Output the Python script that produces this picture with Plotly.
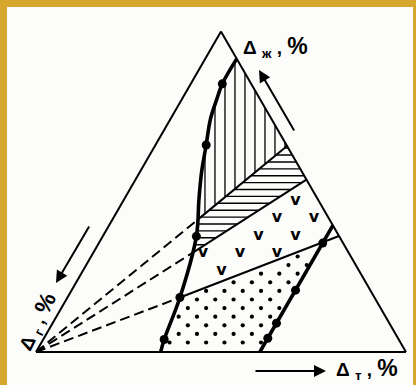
import numpy as np
import plotly.graph_objects as go

# ternary values in %:  a = Δж (top), b = Δг (bottom-left), c = Δт (bottom-right)
curve1_a = [91.5, 83.7, 79.0, 72.7, 64.6, 56.1, 47.7, 36.1, 17.0, 3.9, 0.0]
curve1_b = [0.0, 7.8, 11.6, 16.5, 21.7, 27.2, 32.1, 38.6, 52.6, 63.4, 66.3]
curve1_c = [8.5, 8.5, 9.4, 10.8, 13.7, 16.7, 20.2, 25.3, 30.4, 32.7, 33.7]
dots1_idx = [1, 4, 7, 8, 9]

curve2_a = [0.0, 39.5]
curve2_b = [39.5, 0.0]
curve2_c = [60.5, 60.5]
dots2_a = [4.3, 9.0, 19.3, 34.0]
dots2_b = [35.2, 30.5, 20.2, 5.5]
dots2_c = [60.5, 60.5, 60.5, 60.5]

# three rays out of the Δг corner: where they cross curve 1 and where they hit the right side
ray_join_a = [41.4, 30.8, 17.0]
ray_join_b = [35.5, 42.5, 52.6]
ray_join_c = [23.1, 26.7, 30.4]
ray_edge_a = [64.3, 53.8, 36.2]
ray_edge_c = [35.7, 46.2, 63.8]

H = np.sqrt(3) / 2
SIDE = 370.0  # triangle side on screen, px (only used for texture spacing)


def to_xy(pts):
    p = np.array(pts, float)
    return (p[:, 2] + p[:, 0] / 2) / 100, p[:, 0] / 100 * H


def to_abc(x, y):
    x = np.asarray(x, float)
    y = np.asarray(y, float)
    a = y / H * 100
    c = x * 100 - a / 2
    b = 100 - a - c
    fix = lambda v: [None if np.isnan(q) else float(q) for q in v]
    return fix(a), fix(b), fix(c)


def inside(px, py, poly):
    vx, vy = to_xy(poly)
    px = np.asarray(px, float)
    py = np.asarray(py, float)
    res = np.zeros(px.shape, bool)
    j = len(vx) - 1
    for i in range(len(vx)):
        if vy[i] != vy[j]:
            hit = ((vy[i] > py) != (vy[j] > py)) & \
                  (px < (vx[j] - vx[i]) * (py - vy[i]) / (vy[j] - vy[i]) + vx[i])
            res ^= hit
        j = i
    return res


def inside_margin(px, py, poly, m):
    ok = inside(px, py, poly)
    for dx, dy in [(m, 0), (-m, 0), (0, m), (0, -m)]:
        ok &= inside(px + dx, py + dy, poly)
    return ok


def hatch(poly, vertical, step_px, first_px):
    t = np.linspace(0, 1, 900)
    step = step_px / SIDE
    xs, ys = [], []
    for lv in np.arange((first_px / SIDE) % step, 1, step):
        if vertical:
            px, py = np.full_like(t, lv), t * H
        else:
            px, py = t, np.full_like(t, lv)
        m = inside(px, py, poly)
        if m.any():
            if vertical:
                xs += [lv, lv, np.nan]
                ys += [py[m].min(), py[m].max(), np.nan]
            else:
                xs += [px[m].min(), px[m].max(), np.nan]
                ys += [lv, lv, np.nan]
    return to_abc(xs, ys)


def lattice(poly, dx_px, dy_px, x0_px, y0_px, margin_px):
    xs, ys = [], []
    for k in range(-40, 40):
        y = (y0_px + k * dy_px) / SIDE
        if y < 0 or y > H:
            continue
        shift = dx_px / 2 if k % 2 else 0
        x = (x0_px + shift + np.arange(-30, 30) * dx_px) / SIDE
        ok = inside_margin(x, np.full_like(x, y), poly, margin_px / SIDE)
        xs += list(x[ok])
        ys += [y] * int(ok.sum())
    return to_abc(xs, ys)


pts1 = list(zip(curve1_a, curve1_b, curve1_c))
joins = list(zip(ray_join_a, ray_join_b, ray_join_c))
edges = [(a, 0.0, c) for a, c in zip(ray_edge_a, ray_edge_c)]
A_j, B_j, C_j = joins
A_e, B_e, C_e = edges
C2 = (dots2_a[-1], dots2_b[-1], dots2_c[-1])
top2 = (curve2_a[-1], curve2_b[-1], curve2_c[-1])
bot2 = (curve2_a[0], curve2_b[0], curve2_c[0])

reg_vert = [p for p in pts1 if p[0] > A_j[0]] + [A_j, A_e]
reg_horiz = [A_j, A_e, B_e, B_j] + [p for p in pts1 if B_j[0] < p[0] < A_j[0]][::-1]
reg_v = [B_j, B_e, top2, C2, C_j] + [p for p in pts1 if C_j[0] < p[0] < B_j[0]][::-1]
reg_dots = [C_j, C2, bot2] + [p for p in pts1 if p[0] < C_j[0]][::-1]

fig = go.Figure()


def tern(abc, **kw):
    a, b, c = abc
    fig.add_trace(go.Scatterternary(a=a, b=b, c=c, hoverinfo='skip',
                                    showlegend=False, **kw))


# textures
tern(hatch(reg_vert, True, 10.0, 169.0), mode='lines', line=dict(color='black', width=1.3))
tern(hatch(reg_horiz, False, 6.9, 197.0), mode='lines', line=dict(color='black', width=1.4))
va, vb, vc = lattice(reg_v, 37.0, 17.5, 167.0, 99.0, 3.0)
tern((va, vb, vc), mode='text', text=['<b>v</b>'] * len(va),
     textfont=dict(family='DejaVu Sans', size=16, color='black'))
tern(lattice(reg_dots, 18.3, 8.6, 161.0, 35.3, 3.0), mode='markers',
     marker=dict(color='black', size=4.2))

# rays from the Δг corner: dashed up to curve 1, solid after it
for j, e in zip(joins, edges):
    tern(([0, j[0]], [100, j[1]], [0, j[2]]), mode='lines',
         line=dict(color='black', width=2, dash='10px,5px'))
    tern(([j[0], e[0]], [j[1], e[1]], [j[2], e[2]]), mode='lines',
         line=dict(color='black', width=2))

# thick curves and their points
tern((curve1_a, curve1_b, curve1_c), mode='lines',
     line=dict(color='black', width=3.6, shape='spline'))
tern((curve2_a, curve2_b, curve2_c), mode='lines', line=dict(color='black', width=3.6))
tern(([curve1_a[i] for i in dots1_idx], [curve1_b[i] for i in dots1_idx],
      [curve1_c[i] for i in dots1_idx]), mode='markers',
     marker=dict(color='black', size=9))
tern((dots2_a, dots2_b, dots2_c), mode='markers', marker=dict(color='black', size=9))

axis = dict(showticklabels=False, ticks='', showgrid=False, linewidth=2,
            linecolor='black', title=dict(text=''))

lab = dict(family='Liberation Sans', size=19, color='black')
W, Hpx = 416, 385


def px(x, y):
    return x / W, 1 - y / Hpx


annotations = []
for text, (x, y), ang in [
    ("<b>Δ <sub>ж</sub> , <span style='font-size:23px'>%</span></b>", px(275, 47), 0),
    ("<b>Δ <sub>т</sub> , <span style='font-size:23px'>%</span></b>", px(367, 369), 0),
    ("<b>Δ <sub>г</sub> , <span style='font-size:23px'>%</span></b>", px(37, 322), -64),
]:
    annotations.append(dict(x=x, y=y, xref='paper', yref='paper', text=text,
                            xanchor='center', yanchor='middle',
                            showarrow=False, font=lab, textangle=ang))

for (hx, hy), (tx, ty) in [((259, 70), (295, 132)), ((56, 283), (90, 225)),
                           ((326, 371), (254, 371))]:
    x, y = px(hx, hy)
    annotations.append(dict(x=x, y=y, xref='paper', yref='paper', text='',
                            showarrow=True, ax=tx - hx, ay=ty - hy,
                            arrowhead=2, arrowsize=1.2, arrowwidth=2,
                            arrowcolor='black', standoff=0))

fig.update_layout(
    width=W, height=Hpx,
    margin=dict(l=0, r=0, t=0, b=0),
    paper_bgcolor='#D6A72C',
    showlegend=False,
    hovermode=False,
    ternary=dict(sum=100, bgcolor='rgba(0,0,0,0)',
                 domain=dict(x=[0.0865, 0.9759], y=[0.0857, 0.9179]),
                 aaxis=axis, baxis=axis, caxis=axis),
    shapes=[dict(type='rect', xref='paper', yref='paper', x0=7 / W, x1=413 / W,
                 y0=0, y1=1 - 7 / Hpx, fillcolor='#FCFCFA', line=dict(width=0),
                 layer='below')],
    annotations=annotations,
)

# the page body has a default 8px margin; drop it so the figure fills the window
fig.write_html("out.html", config={'displayModeBar': False},
               post_script="document.body.style.margin='0px';")
